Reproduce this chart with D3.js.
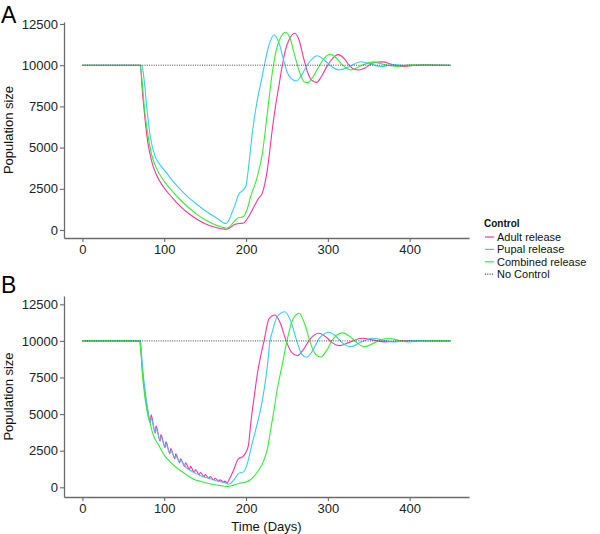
<!DOCTYPE html>
<html lang="en">
<head>
    <meta charset="UTF-8">
    <title>Population size under control releases</title>
    <script src="https://d3js.org/d3.v7.min.js"></script>
    <style>
        body {
            margin: 0;
            padding: 0;
            background-color: #fff;
            font-family: "Liberation Sans", Arial, sans-serif;
        }
    </style>
</head>
<body>
    <svg id="chart" width="600" height="534"></svg>

    <script>
        // ---- data: [day, population size] ----
        const seriesNames = ["Adult release", "Pupal release", "Combined release", "No Control"];
        const seriesColors = ["#ff3399", "#33ccff", "#33ee33", "#444"];
        const xTicks = [0, 100, 200, 300, 400];
        const yTicks = [0, 2500, 5000, 7500, 10000, 12500];
        const noControl = [[0, 10000], [450, 10000]];

        // panel A
        const adultA = [[0, 10000], [70, 10000], [71.5, 9700], [73, 8600], [75, 7500], [77, 6500], [80, 5300],
            [85, 4100], [90, 3400], [100, 2550], [110, 1950], [120, 1420], [130, 1000], [140, 650],
            [150, 380], [160, 200], [170, 80], [176, 50], [180, 120], [186, 330], [192, 390], [197, 430],
            [203, 800], [209.7, 1415], [215, 1900], [220, 2250], [226, 3650], [232, 6070], [236, 7500],
            [240, 8700], [244.4, 10000], [248, 10900], [252.5, 11530], [259.5, 11935], [265, 11500],
            [270, 10500], [275, 9600], [280, 9100], [286.4, 8960], [292, 9300], [298, 9850], [304, 10300],
            [312.5, 10640], [320, 10400], [326, 10000], [332, 9750], [338, 9710], [346, 9850], [356, 10150],
            [367, 10200], [378, 10050], [390, 9920], [402, 9970], [415, 10030], [430, 10010], [450, 10000]];
        const pupalA = [[0, 10000], [72, 10000], [73.5, 9800], [75, 9300], [79, 7280], [83, 5660], [89, 4450],
            [95, 3950], [100, 3650], [110, 3000], [120, 2450], [128, 2050], [140, 1550], [152, 1110],
            [165, 700], [175, 400], [178, 500], [182, 950], [186, 1450], [191, 2150], [197, 2450], [200, 2700],
            [203.5, 4000], [207.7, 5900], [213.8, 7900], [218, 8900], [222, 9900], [228, 11200], [234, 11830],
            [240, 11400], [246, 10300], [250, 9600], [255, 9200], [261.5, 9040], [268, 9400], [276, 10100],
            [287, 10575], [296, 10300], [305, 9900], [314, 9710], [326, 9900], [340, 10210], [352, 10080],
            [365, 9920], [380, 10030], [395, 9980], [420, 10010], [450, 10000]];
        const combinedA = [[0, 10000], [70.5, 10000], [72, 9500], [73, 9000], [76, 7300], [80, 5800], [85, 4500],
            [90, 3800], [100, 2950], [110, 2350], [120, 1820], [130, 1350], [140, 950], [150, 620], [160, 370],
            [170, 180], [176, 110], [180, 200], [186, 550], [190, 720], [197, 820], [201, 1200], [205.6, 2020],
            [213.8, 3235], [220, 4650], [226, 7080], [232, 9510], [238, 11120], [243, 11750], [248.5, 12000],
            [254, 11600], [260, 10500], [266, 9500], [271, 9000], [275.8, 8940], [282, 9300], [290, 10000],
            [296, 10450], [302.7, 10660], [310, 10450], [318, 10000], [328, 9710], [340, 9950], [356, 10200],
            [370, 10030], [385, 9930], [400, 10020], [420, 10010], [450, 10000]];

        // panel B
        const adultB = [[0, 10000], [70, 10000], [71.5, 9300], [73, 8200], [75, 7100], [77, 6250], [80, 5200],
            [83, 4400], [84, 4950], [89, 3700], [90, 4200], [95, 3150], [96, 3600], [101, 2700], [102, 3100],
            [107, 2300], [108, 2650], [113, 1950], [114, 2280], [119, 1680], [120, 1950], [125, 1420], [126, 1680],
            [131, 1200], [132, 1430], [137, 1010], [138, 1220], [143, 850], [144, 1030], [149, 710], [150, 870],
            [155, 600], [156, 740], [161, 500], [162, 620], [167, 420], [168, 520], [173, 340], [174, 420],
            [177, 320], [180, 600], [185, 1200], [190, 1900], [197, 2150], [200, 2400], [203, 2900], [206, 4500],
            [210, 6200], [214, 7800], [218, 9000], [222, 10000], [228, 11500], [235.4, 11770], [242, 11200],
            [249, 10000], [256, 9200], [262.8, 8990], [270, 9400], [278, 10100], [289, 10520], [298, 10250],
            [306, 9850], [313.8, 9680], [326, 9900], [342, 10180], [356, 10050], [370, 9930], [385, 9990],
            [400, 10030], [420, 10000], [450, 10000]];
        const pupalB = [[0, 10000], [71, 10000], [72, 9300], [74, 7900], [77, 6400], [80, 5250], [83, 4500],
            [84, 4700], [89, 3800], [90, 3980], [95, 3250], [96, 3400], [101, 2800], [102, 2920], [107, 2380],
            [108, 2480], [113, 2050], [114, 2120], [119, 1760], [120, 1820], [126, 1400], [136, 1020], [146, 760],
            [157, 560], [167, 400], [175, 300], [179, 220], [185, 500], [191, 950], [197.5, 1070], [202, 1700],
            [205.6, 2550], [211.7, 3900], [220, 5960], [226, 8240], [229.3, 10000], [232, 10600], [238, 11650],
            [247.7, 11995], [255, 11300], [262, 10000], [268, 9100], [274, 8880], [281, 9300], [290, 10200],
            [301.5, 10590], [310, 10300], [318, 9850], [328, 9600], [340, 9900], [354.6, 10180], [368, 10050],
            [380, 9930], [395, 9980], [410, 10030], [430, 10000], [450, 10000]];
        const combinedB = [[0, 10000], [70, 10000], [71.5, 9300], [73, 8000], [76, 6300], [79, 5200], [83, 4300],
            [87, 3500], [93, 2900], [100, 2200], [108, 1700], [116, 1300], [126, 900], [136, 550], [146, 380],
            [157, 225], [167, 130], [177, 50], [185, 150], [192, 280], [198, 330], [205, 500], [214, 1065],
            [222, 1865], [226, 2600], [230, 3900], [234, 5200], [238, 6650], [244, 8300], [250, 10000],
            [256.6, 11400], [264.8, 11890], [272, 11100], [279, 9800], [285, 9100], [291.3, 8900], [298, 9300],
            [306, 10100], [317.8, 10550], [327, 10300], [335, 9900], [344.7, 9600], [358, 9900], [373, 10180],
            [386, 10050], [398, 9930], [412, 9980], [430, 10010], [450, 10000]];

        const svg = d3.select("#chart");
        const font = "'Liberation Sans', Arial, sans-serif";

        const x = d3.scaleLinear().domain([-22.5, 472.5]).range([64, 469]);

        const panels = [
            { label: "A", series: [adultA, pupalA, combinedA], y: d3.scaleLinear().domain([-485, 12620]).range([238, 22]), labelY: 23 },
            { label: "B", series: [adultB, pupalB, combinedB], y: d3.scaleLinear().domain([-663, 13067]).range([497, 296]), labelY: 293 }
        ];

        panels.forEach((p) => {
            const g = svg.append("g");
            const [yBottom, yTop] = p.y.range();

            // lines
            const line = d3.line()
                .x((d) => x(d[0]))
                .y((d) => p.y(d[1]))
                .curve(d3.curveMonotoneX);

            p.series.forEach((s, i) => {
                g.append("path")
                    .datum(s)
                    .attr("d", line)
                    .attr("fill", "none")
                    .attr("stroke", seriesColors[i])
                    .attr("stroke-width", 1.1);
            });

            g.append("path")
                .datum(noControl)
                .attr("d", line)
                .attr("fill", "none")
                .attr("stroke", seriesColors[3])
                .attr("stroke-width", 1)
                .attr("stroke-dasharray", "1,1.3");

            // axes
            const xAxis = g.append("g")
                .attr("transform", `translate(0,${yBottom})`)
                .call(d3.axisBottom(x).tickValues(xTicks).tickFormat(d3.format("d"))
                    .tickSize(4).tickSizeOuter(0).tickPadding(3));
            const yAxis = g.append("g")
                .attr("transform", `translate(${x.range()[0]},0)`)
                .call(d3.axisLeft(p.y).tickValues(yTicks).tickFormat(d3.format("d"))
                    .tickSize(4).tickSizeOuter(0).tickPadding(2));

            [xAxis, yAxis].forEach((a) => {
                a.select(".domain").attr("stroke", "#6b6b6b").attr("stroke-width", 1.3);
                a.selectAll(".tick line").attr("stroke", "#6b6b6b").attr("stroke-width", 1.1);
                a.selectAll(".tick text")
                    .attr("fill", "#222")
                    .attr("font-size", "13px")
                    .attr("font-family", font);
            });

            // y title
            g.append("text")
                .attr("transform", `translate(13,${(yBottom + yTop) / 2}) rotate(-90)`)
                .attr("text-anchor", "middle")
                .attr("font-size", "13px")
                .attr("font-family", font)
                .attr("fill", "#111")
                .text("Population size");

            // panel letter
            g.append("text")
                .attr("x", 1)
                .attr("y", p.labelY)
                .attr("font-size", "23px")
                .attr("font-family", font)
                .attr("fill", "#000")
                .text(p.label);
        });

        // x title
        svg.append("text")
            .attr("x", (x.range()[0] + x.range()[1]) / 2)
            .attr("y", 531)
            .attr("text-anchor", "middle")
            .attr("font-size", "13px")
            .attr("font-family", font)
            .attr("fill", "#111")
            .text("Time (Days)");

        // legend
        const legend = svg.append("g").attr("transform", "translate(484,0)");
        legend.append("text")
            .attr("x", 0)
            .attr("y", 227)
            .attr("font-size", "10px")
            .attr("font-weight", "bold")
            .attr("font-family", font)
            .attr("fill", "#111")
            .text("Control");

        seriesNames.forEach((name, i) => {
            const cy = 237 + i * 12.4;
            legend.append("line")
                .attr("x1", 1)
                .attr("x2", 10)
                .attr("y1", cy)
                .attr("y2", cy)
                .attr("stroke", seriesColors[i])
                .attr("stroke-width", 1.2)
                .attr("stroke-dasharray", i === 3 ? "1,1.3" : null);
            legend.append("text")
                .attr("x", 13)
                .attr("y", cy)
                .attr("dy", "0.36em")
                .attr("font-size", "11px")
                .attr("font-family", font)
                .attr("fill", "#111")
                .text(name);
        });
    </script>
</body>
</html>
